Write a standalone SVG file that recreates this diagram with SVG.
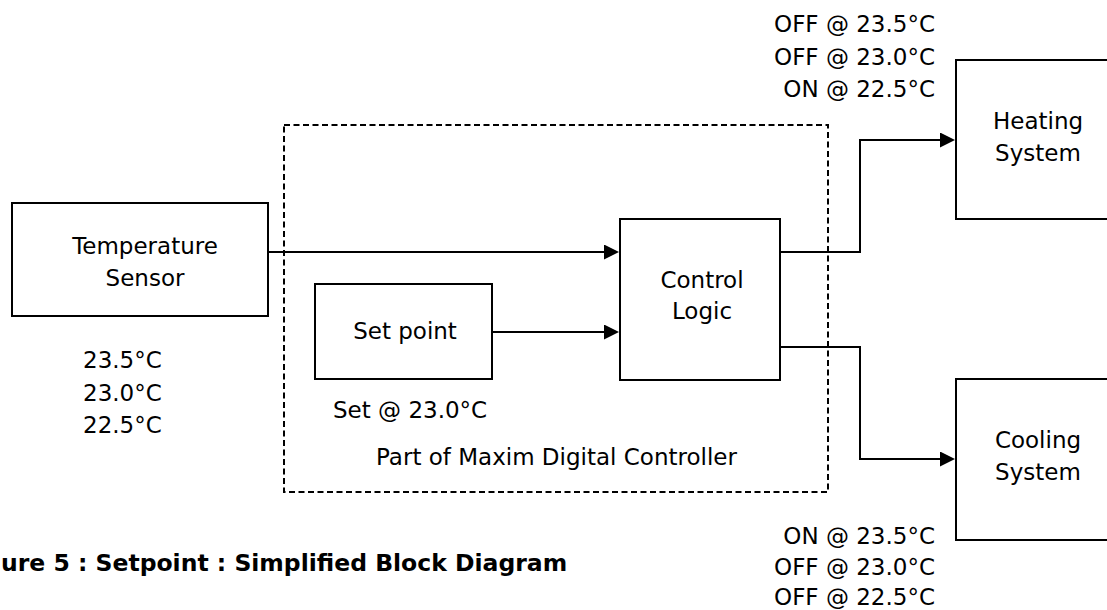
<svg xmlns="http://www.w3.org/2000/svg" width="1107" height="610" viewBox="0 0 1107 610">
<style>
.box{fill:#fff;stroke:#000;stroke-width:2}
.dash{fill:none;stroke:#000;stroke-width:2;stroke-dasharray:6 3.5}
.conn{fill:none;stroke:#000;stroke-width:2}
text{font-family:"DejaVu Sans",Verdana,sans-serif;font-size:23px;fill:#000}
.c{text-anchor:middle}
.r{text-anchor:end}
.cap{font-weight:bold;font-size:23.5px}
</style>
<defs>
<marker id="arr" markerUnits="userSpaceOnUse" markerWidth="16" markerHeight="16" refX="8" refY="7.5" orient="auto">
<path d="M0,0 L15,7.5 L0,15 z" fill="#000"/>
</marker>
</defs>
<g id="controller-boundary">
<rect class="dash" x="284" y="125" width="544" height="367"/>
<text x="376" y="465">Part of Maxim Digital Controller</text>
</g>
<g id="connectors">
<polyline class="conn" points="268,252 612,252" marker-end="url(#arr)"/>
<polyline class="conn" points="492,332 612,332" marker-end="url(#arr)"/>
<polyline class="conn" points="780,252 860,252 860,140 948,140" marker-end="url(#arr)"/>
<polyline class="conn" points="780,347 860,347 860,459 948,459" marker-end="url(#arr)"/>
</g>
<g id="temperature-sensor">
<rect class="box" x="12" y="203" width="256" height="113"/>
<text class="c" x="145" y="254">Temperature</text>
<text class="c" x="145" y="286">Sensor</text>
<text x="83" y="368">23.5°C</text>
<text x="83" y="400.5">23.0°C</text>
<text x="83" y="433">22.5°C</text>
</g>
<g id="set-point">
<rect class="box" x="315" y="284" width="177" height="95"/>
<text class="c" x="405" y="339">Set point</text>
<text x="333" y="418">Set @ 23.0°C</text>
</g>
<g id="control-logic">
<rect class="box" x="620" y="219" width="160" height="161"/>
<text class="c" x="702" y="288">Control</text>
<text class="c" x="702" y="319">Logic</text>
</g>
<g id="heating-system">
<rect class="box" x="956" y="60" width="170" height="159"/>
<text class="c" x="1038" y="129">Heating</text>
<text class="c" x="1038" y="161">System</text>
<text class="r" x="935" y="32">OFF @ 23.5°C</text>
<text class="r" x="935" y="64.5">OFF @ 23.0°C</text>
<text class="r" x="935" y="97">ON @ 22.5°C</text>
</g>
<g id="cooling-system">
<rect class="box" x="956" y="379" width="170" height="161"/>
<text class="c" x="1038" y="448">Cooling</text>
<text class="c" x="1038" y="480">System</text>
<text class="r" x="935" y="544">ON @ 23.5°C</text>
<text class="r" x="935" y="575">OFF @ 23.0°C</text>
<text class="r" x="935" y="605">OFF @ 22.5°C</text>
</g>
<g id="caption">
<text class="cap" x="1" y="571">ure 5 : Setpoint : Simplified Block Diagram</text>
</g>
</svg>
